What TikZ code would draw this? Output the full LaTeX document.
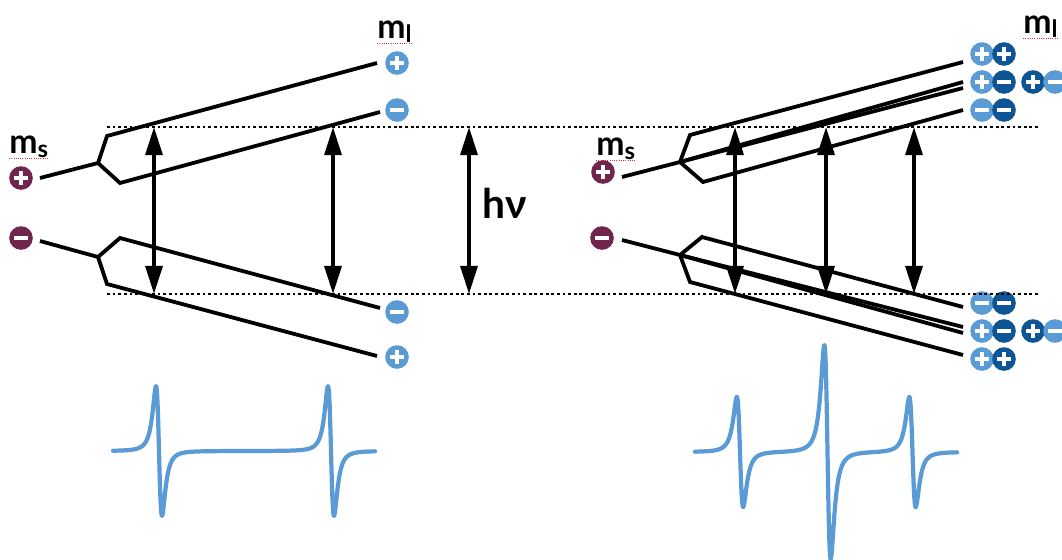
\documentclass[tikz,border=0pt]{standalone}
\usepackage{fontspec}
\setmainfont{Lato}
\usetikzlibrary{arrows.meta,positioning,calc}
\definecolor{maroon}{HTML}{70254F}
\definecolor{lightblue}{HTML}{5B9BD5}
\definecolor{darkblue}{HTML}{0E5595}
\definecolor{squiggle}{HTML}{E03030}
\newcommand{\qsub}[1]{{\fontsize{17}{17}\selectfont\raisebox{-3.5pt}{#1}}}

\begin{document}
\begin{tikzpicture}[
  x=0.025cm, y=-0.025cm,
  sign/.style={circle, fill=#1, minimum size=0.59cm, inner sep=0pt},
  plussign/.style={sign=#1, path picture={
      \draw[white, line width=0.1cm]
        ([xshift=-0.165cm]path picture bounding box.center) -- ([xshift=0.165cm]path picture bounding box.center)
        ([yshift=-0.165cm]path picture bounding box.center) -- ([yshift=0.165cm]path picture bounding box.center);}},
  minussign/.style={sign=#1, path picture={
      \draw[white, line width=0.1cm]
        ([xshift=-0.17cm]path picture bounding box.center) -- ([xshift=0.17cm]path picture bounding box.center);}},
  lvl/.style={line width=2.7pt, line join=miter},
  gapline/.style={line width=2pt, dash pattern=on 2pt off 2pt},
  trans/.style={{Triangle[length=0.7cm,width=0.42cm]}-{Triangle[length=0.7cm,width=0.42cm]}, line width=2.7pt},
  spec/.style={draw=lightblue, line width=3pt, line join=round, line cap=round},
  qnum/.style={font=\fontsize{24}{24}\selectfont\bfseries, inner sep=0pt, anchor=base west},
  spell/.style={draw=squiggle, line width=0.6pt, densely dotted},
  declare function={dl(\t)=2*\t/(1+\t*\t)/(1+\t*\t);}
]
  \useasboundingbox (0,0) rectangle (1062,559);

  % labels
  \node[qnum] (msl) at (9,153) {m\qsub{s}};
  \node[qnum] (mll) at (377,38) {m\qsub{l}};
  \node[qnum] (msr) at (596,155) {m\qsub{s}};
  \node[qnum] (mlr) at (1023,33) {m\qsub{l}};
  \node[qnum, font=\fontsize{29}{29}\selectfont\bfseries] (hnu) at (482,218) {hν};
  \foreach \n in {msl,mll,msr,mlr}
    \draw[spell] ([yshift=-4pt]\n.base west) -- ([yshift=-4pt]\n.base east);

  % left signs
  \node[plussign=maroon] (sal) at (21,178) {};
  \node[minussign=maroon] (sbl) at (21,238) {};
  \node[plussign=lightblue] (la) at (397,63) {};
  \node[minussign=lightblue] (lb) at (397,110) {};
  \node[minussign=lightblue] (lc) at (397,312) {};
  \node[plussign=lightblue] (ld) at (397,357) {};

  % right signs
  \node[plussign=maroon] (sar) at (603,172) {};
  \node[minussign=maroon] (sbr) at (602,238) {};
  \node[plussign=lightblue] (ra1) at (982,54) {};
  \node[plussign=darkblue] (ra2) at (1004,54) {};
  \node[plussign=lightblue] (rb1) at (982,82) {};
  \node[minussign=darkblue] (rb2) at (1004,82) {};
  \node[plussign=darkblue] (rb3) at (1033,82) {};
  \node[minussign=lightblue] (rb4) at (1055,82) {};
  \node[minussign=lightblue] (rc1) at (982,110) {};
  \node[minussign=darkblue] (rc2) at (1004,110) {};
  \node[minussign=lightblue] (rd1) at (982,303) {};
  \node[minussign=darkblue] (rd2) at (1004,303) {};
  \node[plussign=lightblue] (re1) at (982,331) {};
  \node[minussign=darkblue] (re2) at (1004,331) {};
  \node[plussign=darkblue] (re3) at (1033,331) {};
  \node[minussign=lightblue] (re4) at (1055,331) {};
  \node[plussign=lightblue] (rf1) at (982,359) {};
  \node[plussign=darkblue] (rf2) at (1004,359) {};

  % resonance field lines
  \coordinate (gtl) at (107,127);
  \coordinate (gtr) at (1038,127);
  \coordinate (gbl) at (107,294);
  \coordinate (gbr) at (1038,294);
  \draw[gapline] (gtl) -- (gtr);
  \draw[gapline] (gbl) -- (gbr);

  % left levels
  \coordinate (Lu0) at (40,178);
  \coordinate (Lub) at (98,163);
  \coordinate (Lua) at (107,136);
  \coordinate (Lue) at (377,63);
  \coordinate (Lud) at (120,183);
  \coordinate (Luf) at (380,112);
  \draw[lvl] (Lu0) -- (Lub) -- (Lua) -- (Lue);
  \draw[lvl] (Lub) -- (Lud) -- (Luf);
  \coordinate (Ll0) at (40,241);
  \coordinate (Llb) at (98,257);
  \coordinate (Lla) at (120,238);
  \coordinate (Lle) at (380,308);
  \coordinate (Lld) at (107,284);
  \coordinate (Llf) at (377,356);
  \draw[lvl] (Ll0) -- (Llb) -- (Lla) -- (Lle);
  \draw[lvl] (Llb) -- (Lld) -- (Llf);

  % right levels
  \coordinate (Ru0) at (622,177);
  \coordinate (Rub) at (680,162);
  \coordinate (Rua) at (690,135);
  \coordinate (Rue) at (963,62);
  \coordinate (Rum) at (963,82);
  \coordinate (Run) at (963,88);
  \coordinate (Rud) at (703,182);
  \coordinate (Ruf) at (963,110);
  \draw[lvl] (Ru0) -- (Rub) -- (Rua) -- (Rue);
  \draw[lvl] (Rub) -- (Rum);
  \draw[lvl] (Rub) -- (Run);
  \draw[lvl] (Rub) -- (Rud) -- (Ruf);
  \coordinate (Rl0) at (622,240);
  \coordinate (Rlb) at (680,255);
  \coordinate (Rla) at (702,237);
  \coordinate (Rle) at (963,307);
  \coordinate (Rlm) at (963,327);
  \coordinate (Rln) at (963,333);
  \coordinate (Rld) at (690,282);
  \coordinate (Rlf) at (963,355);
  \draw[lvl] (Rl0) -- (Rlb) -- (Rla) -- (Rle);
  \draw[lvl] (Rlb) -- (Rlm);
  \draw[lvl] (Rlb) -- (Rln);
  \draw[lvl] (Rlb) -- (Rld) -- (Rlf);

  % transitions
  \foreach \i/\xx in {1/154, 2/333, 3/469, 4/735, 5/826, 6/914} {
    \coordinate (t\i) at (\xx,127);
    \coordinate (b\i) at (\xx,294);
    \draw[trans] (t\i) -- (b\i);
  }

  % spectra
  \draw[spec] plot[domain=113:375, samples=525]
    (\x, {451 + 100*dl((\x-159)/5.2) + 100*dl((\x-331)/5.2)});
  \draw[spec] plot[domain=695:957, samples=525]
    (\x, {452 + 85*dl((\x-740)/5.5) + 165*dl((\x-827.5)/5.5) + 85*dl((\x-912.5)/5.5)});
\end{tikzpicture}
\end{document}
